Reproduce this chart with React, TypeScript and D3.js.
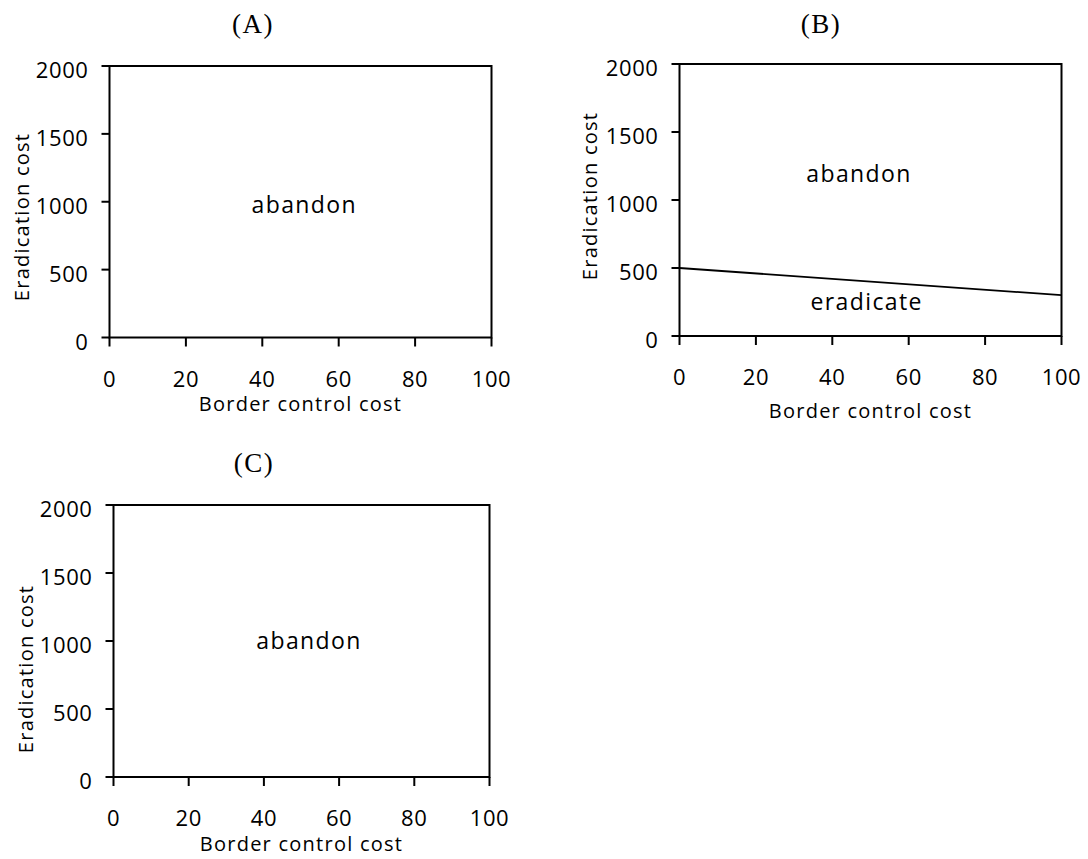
import { useEffect } from "react";
import * as d3 from "d3";

// Decision regions — eradication cost vs border control cost, three scenarios.
const X_TICKS = [0, 20, 40, 60, 80, 100];
const Y_TICKS = [0, 500, 1000, 1500, 2000];
const PANEL_TITLES = ["(A)", "(B)", "(C)"];

// panel B boundary between "eradicate" (below) and "abandon" (above)
const BOUNDARY_X = [0, 100];
const BOUNDARY_Y = [500, 300];

// region labels: [border cost, eradication cost] anchor in data units
const REGIONS_A = [{ text: "abandon", x: 51, y: 920 }];
const REGIONS_B = [
  { text: "abandon", x: 47, y: 1130 },
  { text: "eradicate", x: 49, y: 190 },
];
const REGIONS_C = [{ text: "abandon", x: 52, y: 940 }];

const SANS = "'Open Sans', 'Noto Sans', sans-serif";

type Layout = {
  left: number;
  right: number;
  top: number;
  bottom: number;
  titleX: number;
  titleY: number;
  yLabelX: number;
  yLabelY: number;
  xLabelY: number;
};

const LAYOUTS: Layout[] = [
  { left: 109.5, right: 491.5, top: 66, bottom: 337.5, titleX: 253, titleY: 33, yLabelX: 21, yLabelY: 217, xLabelY: 411 },
  { left: 679.5, right: 1061.5, top: 64, bottom: 336, titleX: 821, titleY: 33, yLabelX: 589, yLabelY: 196, xLabelY: 418 },
  { left: 113.5, right: 489.5, top: 505, bottom: 777, titleX: 254, titleY: 472, yLabelX: 25, yLabelY: 669, xLabelY: 851 },
];

type Region = { text: string; x: number; y: number };

function Panel({
  L,
  title,
  regions,
  boundary,
}: {
  L: Layout;
  title: string;
  regions: Region[];
  boundary?: { xs: number[]; ys: number[] };
}) {
  const x = d3.scaleLinear().domain([0, 100]).range([L.left, L.right]);
  const y = d3.scaleLinear().domain([0, 2000]).range([L.bottom, L.top]);
  const line = d3
    .line<number>()
    .x((_, i) => x(boundary!.xs[i]))
    .y((d) => y(d));

  return (
    <g>
      <text
        x={L.titleX}
        y={L.titleY}
        textAnchor="middle"
        fontFamily="'Liberation Serif', 'Times New Roman', serif"
        fontSize={27}
        letterSpacing={1.5}
      >
        {title}
      </text>

      {/* frame */}
      <rect
        x={L.left}
        y={L.top}
        width={L.right - L.left}
        height={L.bottom - L.top}
        fill="none"
        stroke="#000"
        strokeWidth={2}
      />

      {boundary && (
        <path d={line(boundary.ys) ?? ""} fill="none" stroke="#000" strokeWidth={1.8} />
      )}

      {/* y axis ticks */}
      {Y_TICKS.map((t) => (
        <g key={`y${t}`}>
          <line x1={L.left - 8} x2={L.left} y1={y(t)} y2={y(t)} stroke="#000" strokeWidth={2} />
          <text
            x={L.left - 21}
            y={y(t) + 12}
            textAnchor="end"
            fontFamily={SANS}
            fontSize={22}
            letterSpacing={0.6}
          >
            {t}
          </text>
        </g>
      ))}

      {/* x axis ticks */}
      {X_TICKS.map((t) => (
        <g key={`x${t}`}>
          <line x1={x(t)} x2={x(t)} y1={L.bottom} y2={L.bottom + 9} stroke="#000" strokeWidth={2} />
          <text
            x={x(t)}
            y={L.bottom + 49}
            textAnchor="middle"
            fontFamily={SANS}
            fontSize={22}
            letterSpacing={0.6}
          >
            {t}
          </text>
        </g>
      ))}

      <text
        x={(L.left + L.right) / 2}
        y={L.xLabelY}
        textAnchor="middle"
        fontFamily={SANS}
        fontSize={20}
        letterSpacing={1.25}
      >
        Border control cost
      </text>
      <text
        transform={`translate(${L.yLabelX},${L.yLabelY}) rotate(-90)`}
        textAnchor="middle"
        dominantBaseline="central"
        fontFamily={SANS}
        fontSize={20}
        letterSpacing={1.25}
      >
        Eradication cost
      </text>

      {regions.map((r) => (
        <text
          key={r.text}
          x={x(r.x)}
          y={y(r.y)}
          textAnchor="middle"
          fontFamily={SANS}
          fontSize={23}
          letterSpacing={1.4}
        >
          {r.text}
        </text>
      ))}
    </g>
  );
}

export default function App() {
  useEffect(() => {
    document.body.style.margin = "0";
  }, []);

  return (
    <svg width={1088} height={859} style={{ display: "block", background: "#fff" }}>
      <Panel L={LAYOUTS[0]} title={PANEL_TITLES[0]} regions={REGIONS_A} />
      <Panel
        L={LAYOUTS[1]}
        title={PANEL_TITLES[1]}
        regions={REGIONS_B}
        boundary={{ xs: BOUNDARY_X, ys: BOUNDARY_Y }}
      />
      <Panel L={LAYOUTS[2]} title={PANEL_TITLES[2]} regions={REGIONS_C} />
    </svg>
  );
}
